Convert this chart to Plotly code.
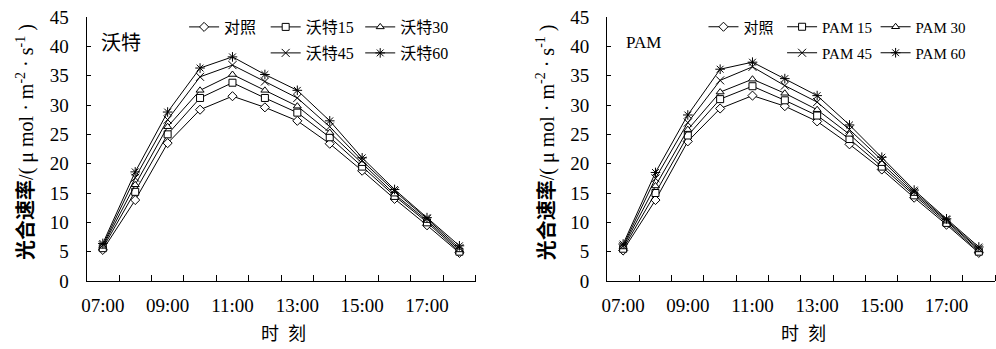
import plotly.graph_objects as go

hours = ["07:00", "08:00", "09:00", "10:00", "11:00", "12:00",
         "13:00", "14:00", "15:00", "16:00", "17:00", "18:00"]
tick_labels = ["07:00", "09:00", "11:00", "13:00", "15:00", "17:00"]

wote_names = ["对照", "沃特15", "沃特30", "沃特45", "沃特60"]
pam_names = ["对照", "PAM 15", "PAM 30", "PAM 45", "PAM 60"]

wote_ck = [5.3, 13.8, 23.5, 29.2, 31.5, 29.6, 27.3, 23.4, 18.8, 14.0, 9.5, 4.8]
wote_15 = [5.6, 15.2, 25.0, 31.2, 33.8, 31.2, 28.7, 24.5, 19.5, 14.5, 10.0, 5.0]
wote_30 = [5.9, 16.4, 26.3, 32.5, 35.2, 32.5, 29.8, 25.3, 20.0, 14.8, 10.3, 5.3]
wote_45 = [6.1, 17.6, 27.5, 34.8, 36.8, 34.0, 31.2, 26.3, 20.5, 15.3, 10.6, 5.6]
wote_60 = [6.4, 18.6, 28.8, 36.3, 38.2, 35.2, 32.5, 27.3, 21.0, 15.6, 10.8, 6.0]

pam_ck = [5.2, 13.8, 23.8, 29.4, 31.6, 29.8, 27.2, 23.3, 19.0, 14.2, 9.6, 4.8]
pam_15 = [5.5, 15.0, 24.8, 31.0, 33.2, 30.8, 28.2, 24.2, 19.5, 14.6, 9.9, 5.0]
pam_30 = [5.8, 16.2, 25.8, 32.2, 34.4, 32.0, 29.2, 25.0, 20.0, 14.9, 10.2, 5.3]
pam_45 = [6.0, 17.5, 27.0, 34.2, 36.5, 33.3, 30.5, 25.8, 20.6, 15.2, 10.4, 5.5]
pam_60 = [6.3, 18.5, 28.3, 36.1, 37.3, 34.5, 31.6, 26.6, 21.1, 15.5, 10.6, 5.8]

W, H = 996, 349
TOP, BOT = 17, 281          # plot area top / bottom in pixels
SERIF = "Liberation Serif, Noto Sans CJK SC"
xi = list(range(len(hours)))


def ypx(py):
    """pixel row -> paper y"""
    return (BOT - py) / (BOT - TOP)


symbols = ["diamond", "square", "triangle-up", "x-thin-open", "asterisk-open"]

fig = go.Figure()

# legend slot positions (pixels): (x, y) for 5 entries
left_slots = [(180, 27), (262, 27), (357, 27), (262, 53), (357, 53)]
right_slots = [(702, 27), (781, 27), (875, 27), (781, 53), (875, 53)]


def add_panel(names, series, xaxis, yaxis, slots, legend_offset, lsize):
    for k, (nm, ys) in enumerate(zip(names, series)):
        sym = symbols[k]
        filled = not sym.endswith("-open")
        marker = dict(symbol=sym, size=7 if k < 3 else 8,
                      color="white" if filled else "black",
                      line=dict(color="black", width=1))
        lg = "legend" if (legend_offset + k) == 0 else f"legend{legend_offset + k + 1}"
        fig.add_trace(go.Scatter(
            x=xi, y=ys, name=nm, mode="lines+markers",
            line=dict(color="black", width=1),
            marker=marker, xaxis=xaxis, yaxis=yaxis, legend=lg,
            showlegend=True))
    for k, (px, py) in enumerate(slots):
        key = "legend" if (legend_offset + k) == 0 else f"legend{legend_offset + k + 1}"
        fig.layout[key] = dict(
            x=px / W, y=ypx(py), xanchor="left", yanchor="middle",
            bgcolor="rgba(0,0,0,0)", borderwidth=0,
            font=dict(family=SERIF, size=lsize, color="black"),
            tracegroupgap=0, itemwidth=30)


add_panel(wote_names, [wote_ck, wote_15, wote_30, wote_45, wote_60], "x", "y", left_slots, 0, 16)
add_panel(pam_names, [pam_ck, pam_15, pam_30, pam_45, pam_60], "x2", "y2", right_slots, 5, 15)

minor_vals = [i - 0.5 for i in range(len(hours) + 1)]
tickvals = [hours.index(t) for t in tick_labels]

xcommon = dict(range=[-0.5, len(hours) - 0.5], tickvals=tickvals, ticktext=tick_labels,
               ticks="", showline=True, linecolor="black", linewidth=1,
               showgrid=False, zeroline=False, ticklabelstandoff=7,
               tickfont=dict(family=SERIF, size=19, color="black"),
               minor=dict(tickmode="array", tickvals=minor_vals, ticks="inside",
                          ticklen=6, tickcolor="black", tickwidth=1, showgrid=False))
ycommon = dict(range=[0, 45], dtick=5, tick0=0, ticks="inside", ticklen=4,
               tickcolor="black", showline=True, linecolor="black", linewidth=1,
               showgrid=False, zeroline=False, ticklabelstandoff=13,
               tickfont=dict(family=SERIF, size=19, color="black"))

fig.update_layout(
    width=W, height=H,
    margin=dict(l=0, r=0, t=TOP, b=H - BOT),
    paper_bgcolor="white", plot_bgcolor="white",
    xaxis=dict(domain=[82 / W, 473 / W], anchor="y", **xcommon),
    yaxis=dict(domain=[0, 1], anchor="x", **ycommon),
    xaxis2=dict(domain=[605 / W, 995 / W], anchor="y2", **xcommon),
    yaxis2=dict(domain=[0, 1], anchor="x2", **ycommon),
)

ytitle = "<b>光合速率</b>/( μ mol · m<sup>-2</sup> · s<sup>-1</sup> )"
annos = [
    dict(text=ytitle, x=20 / W, y=ypx(142), textangle=-90, size=20),
    dict(text=ytitle, x=543 / W, y=ypx(142), textangle=-90, size=20),
    dict(text="时  刻", x=280 / W, y=ypx(334), size=18),
    dict(text="时  刻", x=803 / W, y=ypx(334), size=18),
    dict(text="沃特", x=117 / W, y=ypx(43), size=20),
    dict(text="PAM", x=642 / W, y=ypx(42), size=17),
]
for a in annos:
    size = a.pop("size")
    fig.add_annotation(xref="paper", yref="paper", showarrow=False,
                       xanchor="center", yanchor="middle",
                       font=dict(family=SERIF, size=size, color="black"), **a)

fig.write_html("out.html")
